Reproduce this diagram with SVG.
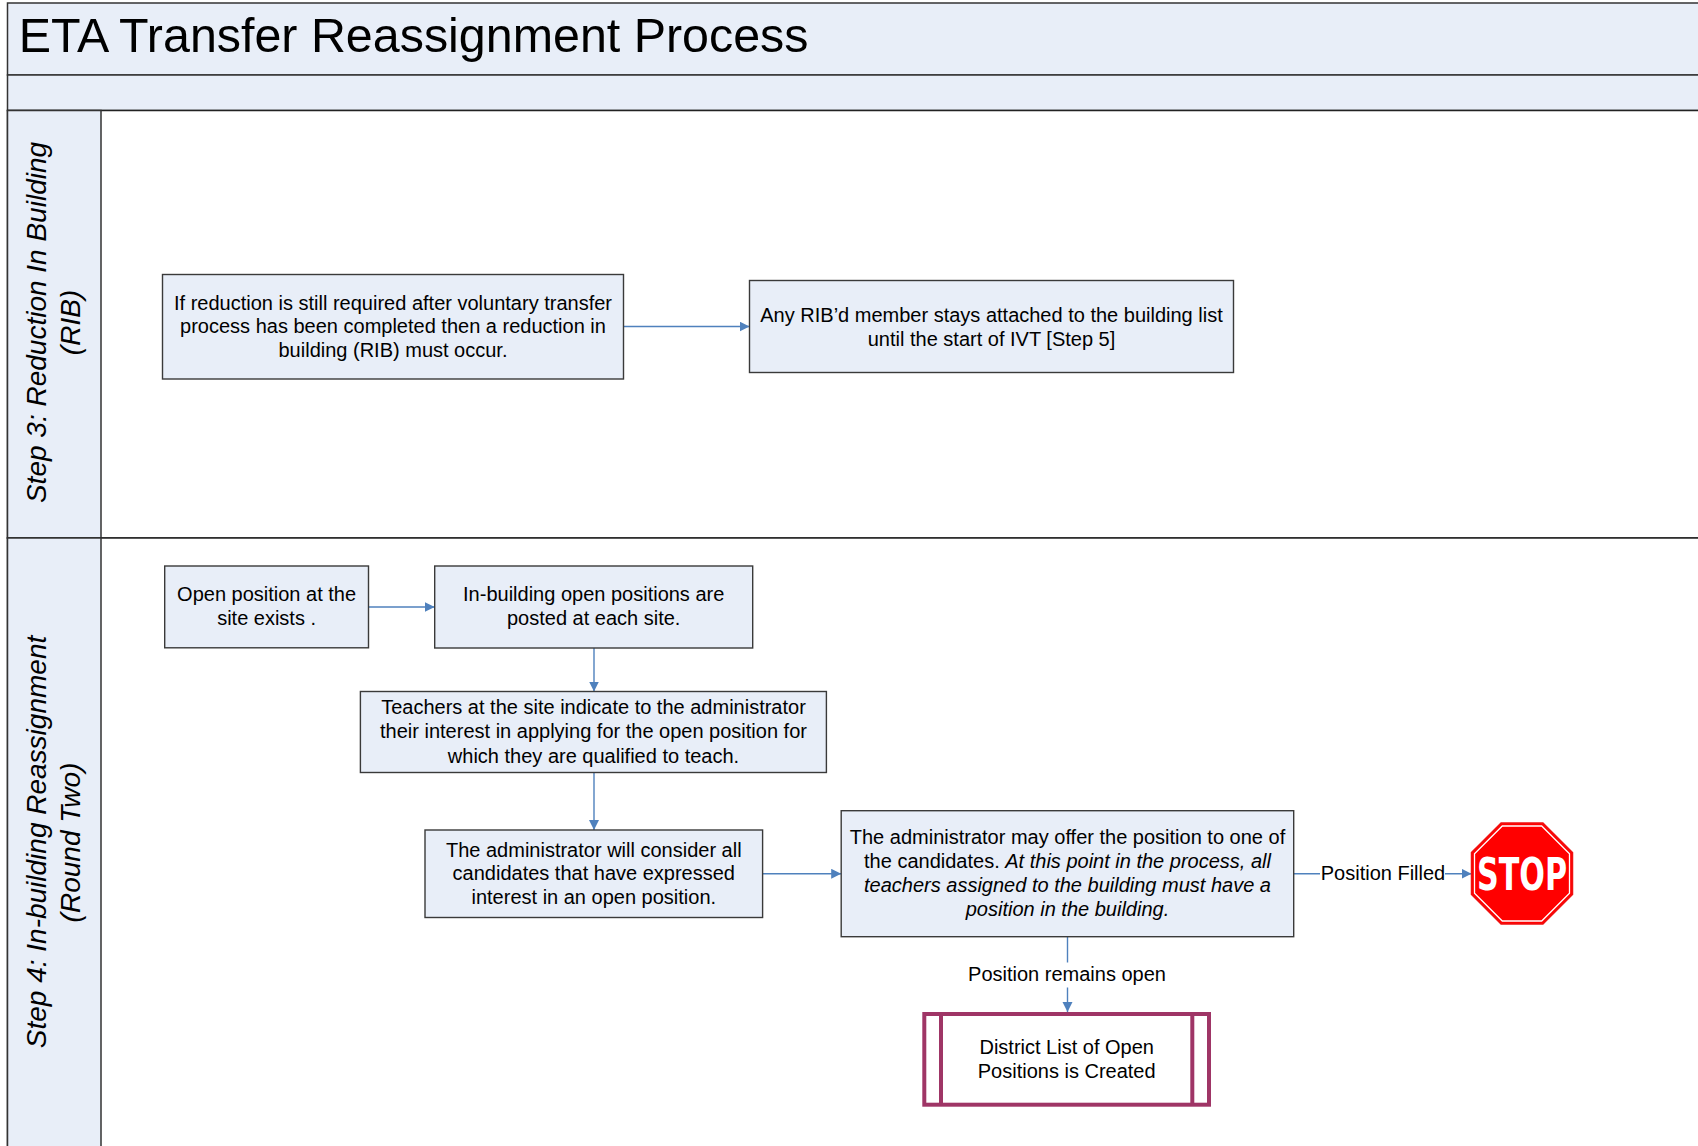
<svg xmlns="http://www.w3.org/2000/svg" width="1698" height="1146" viewBox="0 0 1698 1146">
  <style>
    .band { fill: #E8EEF8; stroke: #333333; stroke-width: 1.5; }
    .lane { fill: #FFFFFF; stroke: #222222; stroke-width: 1.5; }
    .box { fill: #E8EEF8; stroke: #3A3A3A; stroke-width: 1.4; }
    .t { font-family: "Liberation Sans", Arial, sans-serif; font-size: 20px; fill: #000000; text-anchor: middle; }
    .it { font-style: italic; }
    .lh { font-family: "Liberation Sans", Arial, sans-serif; font-size: 28px; font-style: italic; fill: #000000; text-anchor: middle; }
    .title { font-family: "Liberation Sans", Arial, sans-serif; font-size: 48.4px; fill: #000000; }
    .conn { stroke: #4F81BD; stroke-width: 1.4; fill: none; }
    .pp { fill: #FFFFFF; stroke: #9F3566; stroke-width: 4; }
    .ppl { stroke: #9F3566; stroke-width: 4; }
  </style>
  <defs>
    <marker id="arr" markerUnits="userSpaceOnUse" markerWidth="11" markerHeight="11" refX="10" refY="5" orient="auto">
      <path d="M0,0 L10,5 L0,10 z" fill="#4F81BD"/>
    </marker>
  </defs>

  <rect x="0" y="0" width="1698" height="1146" fill="#FFFFFF"/>

  <g id="pool">
    <rect class="band" x="7.5" y="3" width="1700" height="72"/>
    <text class="title" x="18.7" y="52">ETA Transfer Reassignment Process</text>
    <rect class="band" x="7.5" y="75" width="1700" height="35.5"/>
  </g>

  <g id="lane-step3">
    <rect class="lane" x="7.5" y="110.5" width="1700" height="427.5"/>
    <rect class="band" x="7.5" y="110.5" width="93.5" height="427.5"/>
    <text class="lh" transform="translate(46,322.5) rotate(-90)">Step 3: Reduction In Building</text>
    <text class="lh" transform="translate(80,322.5) rotate(-90)">(RIB)</text>
  </g>

  <g id="lane-step4">
    <rect class="lane" x="7.5" y="538" width="1700" height="620"/>
    <rect class="band" x="7.5" y="538" width="93.5" height="620"/>
    <text class="lh" transform="translate(46,842) rotate(-90)">Step 4: In-building Reassignment</text>
    <text class="lh" transform="translate(80,842.5) rotate(-90)">(Round Two)</text>
  </g>

  <g id="connectors">
    <line class="conn" x1="623.8" y1="326.5" x2="749.5" y2="326.5" marker-end="url(#arr)"/>
    <line class="conn" x1="368.5" y1="607" x2="434.7" y2="607" marker-end="url(#arr)"/>
    <line class="conn" x1="594" y1="648" x2="594" y2="691.5" marker-end="url(#arr)"/>
    <line class="conn" x1="594" y1="772.5" x2="594" y2="830" marker-end="url(#arr)"/>
    <line class="conn" x1="762.6" y1="873.8" x2="841.2" y2="873.8" marker-end="url(#arr)"/>
    <line class="conn" x1="1293.7" y1="873.7" x2="1471.5" y2="873.7" marker-end="url(#arr)"/>
    <line class="conn" x1="1067.5" y1="936.7" x2="1067.5" y2="1012" marker-end="url(#arr)"/>
    <g id="label-filled">
      <rect x="1320" y="860" width="125" height="26" fill="#FFFFFF"/>
      <text class="t" x="1383" y="880">Position Filled</text>
    </g>
    <g id="label-open">
      <rect x="965" y="962.5" width="204" height="25" fill="#FFFFFF"/>
      <text class="t" x="1067" y="981">Position remains open</text>
    </g>
  </g>

  <g id="n-rib">
    <rect class="box" x="162.5" y="274.5" width="461" height="104.5"/>
    <text class="t" x="393" y="309.8">If reduction is still required after voluntary transfer</text>
    <text class="t" x="393" y="333.3">process has been completed then a reduction in</text>
    <text class="t" x="393" y="356.8">building (RIB) must occur.</text>
  </g>

  <g id="n-ribd">
    <rect class="box" x="749.5" y="280.5" width="484" height="92"/>
    <text class="t" x="991.5" y="321.5">Any RIB’d member stays attached to the building list</text>
    <text class="t" x="991.5" y="345.5">until the start of IVT [Step 5]</text>
  </g>

  <g id="n-open">
    <rect class="box" x="164.7" y="566" width="203.8" height="81.8"/>
    <text class="t" x="266.6" y="601">Open position at the</text>
    <text class="t" x="266.6" y="625">site exists .</text>
  </g>

  <g id="n-posted">
    <rect class="box" x="434.7" y="566" width="318" height="82"/>
    <text class="t" x="593.7" y="601">In-building open positions are</text>
    <text class="t" x="593.7" y="625">posted at each site.</text>
  </g>

  <g id="n-teachers">
    <rect class="box" x="360.4" y="691.5" width="466" height="81"/>
    <text class="t" x="593.5" y="714">Teachers at the site indicate to the administrator</text>
    <text class="t" x="593.5" y="738">their interest in applying for the open position for</text>
    <text class="t" x="593.5" y="762.5">which they are qualified to teach.</text>
  </g>

  <g id="n-consider">
    <rect class="box" x="425" y="830" width="337.6" height="87.5"/>
    <text class="t" x="593.8" y="856.5">The administrator will consider all</text>
    <text class="t" x="593.8" y="880">candidates that have expressed</text>
    <text class="t" x="593.8" y="904">interest in an open position.</text>
  </g>

  <g id="n-offer">
    <rect class="box" x="841.2" y="810.7" width="452.5" height="126"/>
    <text class="t" x="1067.5" y="844">The administrator may offer the position to one of</text>
    <text class="t" x="1067.5" y="868">the candidates. <tspan class="it">At this point in the process, all</tspan></text>
    <text class="t it" x="1067.5" y="892">teachers assigned to the building must have a</text>
    <text class="t it" x="1067.5" y="916">position in the building.</text>
  </g>

  <g id="n-stop">
    <polygon points="1501.1,823 1542.9,823 1572.5,852.6 1572.5,894.4 1542.9,924 1501.1,924 1471.5,894.4 1471.5,852.6" fill="#FF0000" stroke="#F01010" stroke-width="1.5"/>
    <polygon points="1502.3,826 1541.7,826 1569.5,853.8 1569.5,893.2 1541.7,921 1502.3,921 1474.5,893.2 1474.5,853.8" fill="none" stroke="#FFFFFF" stroke-width="1.3"/>
    <text x="1522" y="890" font-family="'DejaVu Sans Condensed', 'Liberation Sans Narrow', 'Liberation Sans', sans-serif" font-weight="bold" font-size="45" fill="#FFFFFF" text-anchor="middle" textLength="90" lengthAdjust="spacingAndGlyphs">STOP</text>
  </g>

  <g id="n-district">
    <rect class="pp" x="924.3" y="1014" width="284.7" height="90.7"/>
    <line class="ppl" x1="941" y1="1014" x2="941" y2="1104.7"/>
    <line class="ppl" x1="1192.3" y1="1014" x2="1192.3" y2="1104.7"/>
    <text class="t" x="1066.7" y="1054">District List of Open</text>
    <text class="t" x="1066.7" y="1077.5">Positions is Created</text>
  </g>
</svg>
